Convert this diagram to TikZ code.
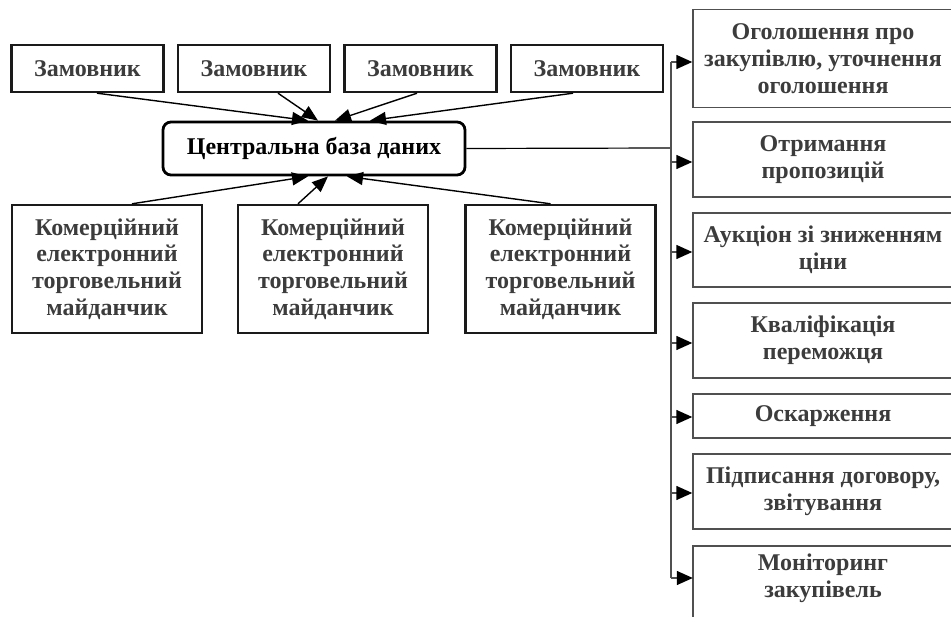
\documentclass[tikz,border=0pt]{standalone}
\usepackage{fontspec}
\setmainfont{Liberation Serif}
\usetikzlibrary{arrows.meta,calc}
\definecolor{txt}{HTML}{3C3C3C}
\definecolor{edge}{HTML}{1A1A1A}
\definecolor{redge}{HTML}{505050}
\begin{document}
\begin{tikzpicture}[x=1pt,y=-1pt,
  every node/.style={font=\bfseries\fontsize{24}{26.7}\selectfont, align=center, inner sep=0pt},
  zbox/.style={draw=edge, line width=2.4pt, text=txt, minimum width=152pt, minimum height=47pt},
  kbox/.style={draw=edge, line width=2.4pt, text=txt, minimum width=190pt, minimum height=128pt},
  rbox/.style={draw=redge, line width=1.4pt, text=txt, minimum width=260pt},
  cbox/.style={draw=black, line width=2.8pt, rounded corners=8pt, text=black, minimum width=302pt, minimum height=53pt},
  arr/.style={line width=1.4pt, -{Triangle[length=16pt,width=13pt]}},
  rarr/.style={line width=1.4pt, draw=redge, -{Triangle[length=16pt,width=14pt,fill=black,color=black]}},
  bus/.style={line width=1.8pt, draw=redge}
]
\useasboundingbox (0,0) rectangle (951,617);
\clip (0,0) rectangle (951,617);

% top customers
\node[zbox] (z1) at (87.5,68.5) {Замовник};
\node[zbox] (z2) at (254,68.5) {Замовник};
\node[zbox] (z3) at (420.5,68.5) {Замовник};
\node[zbox] (z4) at (587,68.5) {Замовник};

% central database
\node[cbox] (c) at (314,148.5) {Центральна база даних};

% platforms
\node[kbox] (k1) at (107,269) {Комерційний\\електронний\\торговельний\\майданчик};
\node[kbox] (k2) at (333,269) {Комерційний\\електронний\\торговельний\\майданчик};
\node[kbox] (k3) at (560.5,269) {Комерційний\\електронний\\торговельний\\майданчик};

% right column
\node[rbox, minimum height=98pt] (r1) at (823,58.5) {Оголошення про\\закупівлю, уточнення\\оголошення};
\node[rbox, minimum height=75pt] (r2) at (823,159.5) {Отримання\\пропозицій};
\node[rbox, minimum height=74pt] (r3) at (823,250) {Аукціон зі зниженням\\ціни};
\node[rbox, minimum height=75pt] (r4) at (823,340.5) {Кваліфікація\\переможця};
\node[rbox, minimum height=44pt] (r5) at (823,416) {Оскарження};
\node[rbox, minimum height=75pt] (r6) at (823,491.5) {Підписання договору,\\звітування};
\node[text=txt, minimum width=260pt, minimum height=64pt] (r7) at (823,578) {Моніторинг\\закупівель};
\draw[redge, line width=1.4pt] (r7.south west) ++(0,40) -- (r7.north west) -- (r7.north east);

% arrows into central database
\draw[arr] ([xshift=9.5pt]z1.south) -- ([xshift=-6pt]c.north);
\draw[arr] ([xshift=24pt]z2.south) -- ([xshift=4pt]c.north);
\draw[arr] ([xshift=-3.5pt]z3.south) -- ([xshift=21pt]c.north);
\draw[arr] ([xshift=-14pt]z4.south) -- ([xshift=56pt]c.north);
\draw[arr] ([xshift=25pt]k1.north) -- ([xshift=-6pt]c.south);
\draw[arr] ([xshift=-35pt]k2.north) -- ([xshift=14pt]c.south);
\draw[arr] ([xshift=-10pt]k3.north) -- ([xshift=33pt]c.south);

% bus
\coordinate (bx) at (671,148);
\coordinate (btop) at (671,62);
\coordinate (bbot) at (671,578);
\draw[line width=1.2pt] (c.east) -- (bx);
\draw[bus] (btop) -- (bbot);
\draw[rarr] (btop) -- ([yshift=-3.5pt]r1.west);
\draw[rarr] (btop |- 0,162) -- ([yshift=-2.5pt]r2.west);
\draw[rarr] (btop |- 0,252) -- ([yshift=-2pt]r3.west);
\draw[rarr] (btop |- 0,343) -- ([yshift=-2.5pt]r4.west);
\draw[rarr] (btop |- 0,417) -- ([yshift=-1pt]r5.west);
\draw[rarr] (btop |- 0,493) -- ([yshift=-1.5pt]r6.west);
\draw[rarr] (bbot) -- (r7.west);
\end{tikzpicture}
\end{document}
